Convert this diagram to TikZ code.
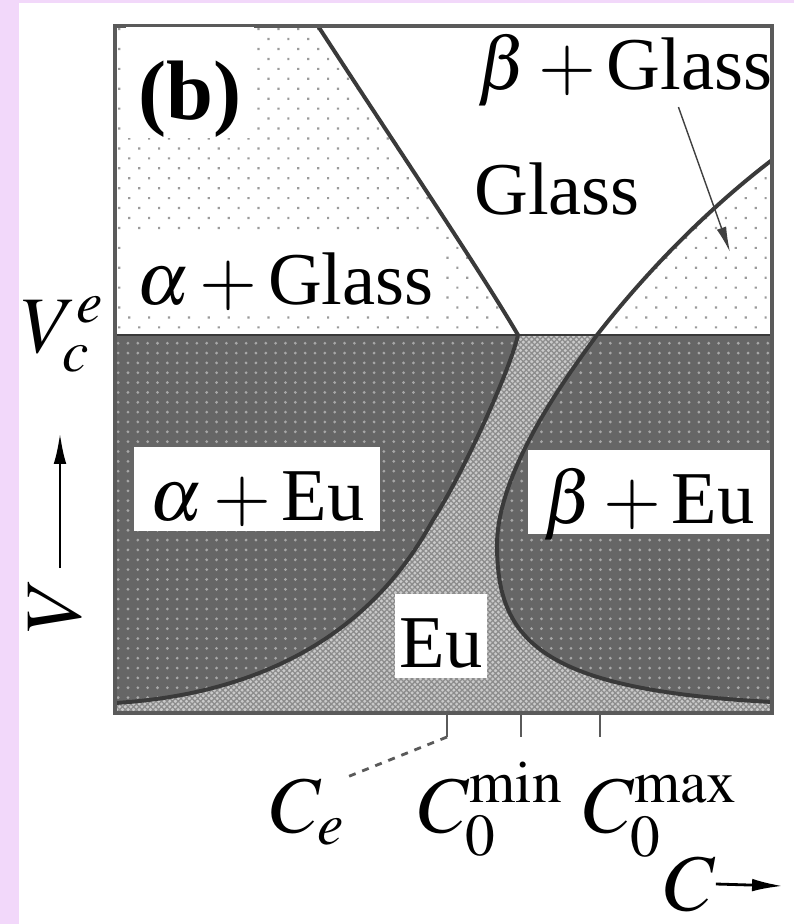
\documentclass[tikz,border=0pt]{standalone}
\usepackage{mathptmx}
\usepackage[no-math]{fontspec}
\setmainfont{Liberation Serif}
\usetikzlibrary{arrows.meta,patterns.meta}
\definecolor{lilac}{HTML}{F2D8FA}
\definecolor{ink2}{HTML}{3A3A3A}
\definecolor{frame2}{HTML}{5A5A5A}
\definecolor{eutect}{HTML}{666666}
\definecolor{dotlt}{HTML}{9A9A9A}
\definecolor{dotdk}{HTML}{A8A8A8}
\definecolor{hatchbg}{HTML}{CACACA}
\definecolor{hatchfg}{HTML}{8C8C8C}

\begin{document}
\begin{tikzpicture}[x=0.025cm,y=-0.025cm,>={Latex[length=22pt,width=9pt]},
  lbl/.style={fill=white,inner xsep=11pt,inner ysep=0pt,text height=52pt,text depth=8pt,anchor=base,font=\fontsize{53}{60}\selectfont},
  txt/.style={inner sep=0pt,anchor=base,font=\fontsize{53}{60}\selectfont},
  ax/.style={inner sep=0pt,font=\fontsize{57}{64}\selectfont}]
\fill[lilac] (0,0) rectangle (794,924);
\fill[white] (19,3) rectangle (794,924);
\useasboundingbox (0,0) rectangle (794,924);
\fill[white] (115,26) rectangle (772,335);
\fill[pattern={Dots[distance=10pt,angle=45,radius=1.1pt]},pattern color=dotlt] (115,26) rectangle (772,335);
\fill[white] (318,26) .. controls (390,137) and (480,270) .. (518,335) -- (597,335) .. controls (640,280) and (700,215) .. (772,160) -- (772,26) -- cycle;
\fill[eutect] (115,335) rectangle (772,713);
\fill[pattern={Dots[distance=7pt,radius=1.1pt]},pattern color=dotdk] (115,335) rectangle (772,713);
\path[preaction={fill=hatchbg},pattern={Hatch[angle=45,distance=2.8pt,line width=0.9pt]},pattern color=hatchfg]
  (518,335) .. controls (510,370) and (465,470) .. (433,520) .. controls (405,570) and (330,690) .. (115,703)
  -- (115,713) -- (772,713) -- (772,702) .. controls (540,690) and (497,640) .. (497,545)
  .. controls (497,470) and (570,372) .. (597,335) -- cycle;
\draw[ink2,line width=2.8pt] (318,26) .. controls (390,137) and (480,270) .. (518,335) .. controls (510,370) and (465,470) .. (433,520) .. controls (405,570) and (330,690) .. (115,703);
\draw[ink2,line width=2.8pt] (772,160) .. controls (700,215) and (640,280) .. (597,335) .. controls (570,372) and (497,470) .. (497,545) .. controls (497,640) and (540,690) .. (772,702);
\draw[ink2,line width=2pt] (115,335) -- (772,335);
\draw[frame2,line width=3.5pt] (115,26) rectangle (772,713);
\node[lbl,inner xsep=9pt,text height=66pt,text depth=13pt,font=\fontsize{60}{66}\selectfont\bfseries] (panel) at (190,120) {(b)};
\node[lbl,inner xsep=6pt] (aglass) at (285,305) {$\alpha+{}$Glass};
\node[lbl] (aeu) at (257,520) {$\alpha+{}$Eu};
\node[lbl] (beu) at (649,523) {$\beta+{}$Eu};
\node[lbl,inner xsep=3pt] (eu) at (441,667) {Eu};
\node[txt] (glass) at (557,215) {Glass};
\node[txt] (bglass) at (625,90) {$\beta+{}$Glass};
\coordinate (bgtip) at (730,252);
\draw[->,>={Latex[length=18pt,width=7pt]},black!75,line width=1pt] ([xshift=38pt]bglass.south) -- (bgtip);
\node[ax,anchor=base west] (vce) at (21,352) {$V_c^e$};
\node[ax,rotate=90] (vlab) at (55,606) {$V$};
\coordinate (vfoot) at (60,568);
\coordinate (vhead) at (60,433);
\draw[->,line width=2pt] (vfoot) -- (vhead);
\foreach \x/\n in {447/ce,521/cmin,600/cmax}{\draw[frame2,line width=2pt] (\x,713) -- (\x,737) coordinate (t\n);}
\node[ax,anchor=base west] (cel) at (270,832) {$C_e$};
\node[ax,anchor=base west] (cminl) at (418,832) {$C_0^{\mathrm{min}}$};
\node[ax,anchor=base west] (cmaxl) at (583,832) {$C_0^{\mathrm{max}}$};
\draw[frame2,line width=2pt,dash pattern=on 5pt off 5pt] (tce) -- (cel.north east);
\node[ax] (cl) at (690,884) {$C$};
\coordinate (chead) at (783,886);
\draw[->,line width=2pt] (cl.east) -- (chead);
\end{tikzpicture}
\end{document}
